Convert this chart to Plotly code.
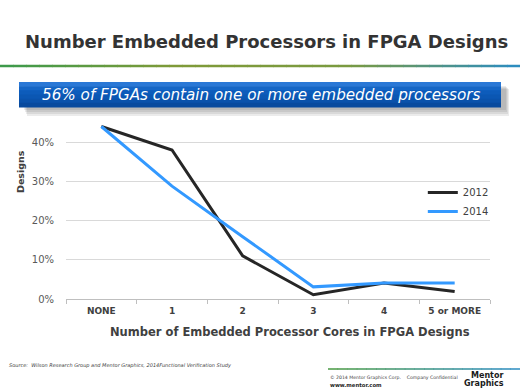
import plotly.graph_objects as go

categories = ["NONE", "1", "2", "3", "4", "5 or MORE"]
values_2012 = [0.44, 0.38, 0.11, 0.011, 0.041, 0.019]
values_2014 = [0.44, 0.288, 0.159, 0.031, 0.041, 0.041]
series_names = ["2012", "2014"]
y_tickvals = [0, 0.1, 0.2, 0.3, 0.4]
y_ticktext = ["0%", "10%", "20%", "30%", "40%"]

FONT = "DejaVu Sans"

fig = go.Figure()
fig.add_trace(go.Scatter(x=categories, y=values_2012, mode="lines", name=series_names[0],
                         line=dict(color="#262626", width=3)))
fig.add_trace(go.Scatter(x=categories, y=values_2014, mode="lines", name=series_names[1],
                         line=dict(color="#3399ff", width=3)))

shapes = []
annotations = []

L, R, T, B, W, H = 66, 30, 103, 91, 520, 390
PW, PH = W - L - R, H - T - B


def lerp_color(c1, c2, t):
    a = [int(c1[i:i + 2], 16) for i in (1, 3, 5)]
    b = [int(c2[i:i + 2], 16) for i in (1, 3, 5)]
    return "#" + "".join(f"{round(a[k] + (b[k] - a[k]) * t):02x}" for k in range(3))


def px_x(x):
    return (x - L) / PW


def px_y(y):
    return (H - B - y) / PH


def gradient_line(x0, x1, y, stops, n=40, width=2.5):
    seg = (x1 - x0) / n
    for i in range(n):
        t = (i + 0.5) / n
        k = min(int(t * (len(stops) - 1)), len(stops) - 2)
        lt = t * (len(stops) - 1) - k
        col = lerp_color(stops[k], stops[k + 1], lt)
        shapes.append(dict(type="line", xref="paper", yref="paper",
                           x0=px_x(x0 + i * seg), x1=px_x(x0 + (i + 1) * seg + 0.5),
                           y0=px_y(y), y1=px_y(y),
                           line=dict(color=col, width=width), layer="above"))


def px_rect(x0, y0, x1, y1, **kw):
    d = dict(type="rect", xref="paper", yref="paper",
             x0=px_x(x0), x1=px_x(x1), y0=px_y(y1), y1=px_y(y0), layer="above")
    d.update(kw)
    return d


def px_ann(text, x, y, **kw):
    d = dict(text=text, xref="paper", yref="paper", x=px_x(x), y=px_y(y),
             showarrow=False, xanchor="center", yanchor="middle")
    d.update(kw)
    return d


# top rule under the title
gradient_line(0, 520, 66, ["#3a9a4c", "#7f9a38", "#7a9a40", "#2a8cc4"])
# footer rule
gradient_line(328, 520, 369, ["#4a9a40", "#2a8cc4"], n=20, width=1.5)

# banner shadow
for i in range(4):
    shapes.append(px_rect(24 + i, 86 + i, 506 + i, 110 + 2 * i,
                          fillcolor="rgba(60,60,60,0.10)", line=dict(width=0)))
# banner gradient
banner_cols = ["#2a78d6", "#1566c6", "#0d5cbb", "#0b57b3", "#0a52ab", "#084a9e"]
hh = (107 - 82) / len(banner_cols)
for i, c in enumerate(banner_cols):
    shapes.append(px_rect(19, 82 + i * hh, 501, 82 + (i + 1) * hh + 0.6,
                          fillcolor=c, line=dict(width=0)))

annotations.append(px_ann("<b>Number Embedded Processors in FPGA Designs</b>", 266, 42,
                          font=dict(family=FONT, size=18, color="#333333")))
annotations.append(px_ann("<i>56% of FPGAs contain one or more embedded processors</i>", 261, 94.5,
                          font=dict(family=FONT, size=15.2, color="white")))
annotations.append(px_ann("<b>Number of Embedded Processor Cores in FPGA Designs</b>", 290, 332,
                          font=dict(family=FONT, size=11.5, color="#404040")))
annotations.append(px_ann("<b>Designs</b>", 20, 172, textangle=-90,
                          font=dict(family=FONT, size=9.5, color="#404040")))
annotations.append(px_ann("<i>Source:  Wilson Research Group and Mentor Graphics, 2014Functional Verification Study</i>",
                          7, 365, xanchor="left",
                          font=dict(family=FONT, size=5, color="#404040")))
annotations.append(px_ann("© 2014 Mentor Graphics Corp.    Company Confidential", 328, 377, xanchor="left",
                          font=dict(family=FONT, size=4.6, color="#404040")))
annotations.append(px_ann("<b>www.mentor.com</b>", 328, 384.5, xanchor="left",
                          font=dict(family=FONT, size=5.3, color="#262626")))
annotations.append(px_ann("<b>Mentor</b>", 505, 375.5, xanchor="right",
                          font=dict(family=FONT, size=8, color="#1a1a1a")))
annotations.append(px_ann("<b>Graphics</b>", 506, 383, xanchor="right",
                          font=dict(family=FONT, size=8, color="#1a1a1a")))

fig.update_layout(
    width=W, height=H,
    margin=dict(l=L, r=R, t=T, b=B, autoexpand=False),
    paper_bgcolor="white", plot_bgcolor="white",
    font=dict(family=FONT, color="#595959"),
    showlegend=True,
    legend=dict(x=1.009, y=px_y(202), xanchor="right", yanchor="middle",
                bgcolor="rgba(0,0,0,0)", font=dict(size=10, color="#404040"),
                itemwidth=30, tracegroupgap=0),
    shapes=shapes,
    annotations=annotations,
)
fig.update_xaxes(type="category", range=[-0.5, 5.5], showgrid=False,
                 showline=True, linecolor="#bfbfbf", linewidth=1,
                 ticks="outside", tickson="boundaries", ticklen=4, tickcolor="#bfbfbf",
                 ticklabelstandoff=3,
                 tickfont=dict(family=FONT, size=9, color="#404040", weight="bold"),
                 fixedrange=True)
fig.update_yaxes(range=[0, 0.5], tickvals=y_tickvals, ticktext=y_ticktext,
                 showgrid=True, gridcolor="#d9d9d9", gridwidth=1, zeroline=False,
                 showline=False, ticks="", ticklabelstandoff=11,
                 tickfont=dict(family=FONT, size=10, color="#595959"),
                 fixedrange=True)

fig.write_html("out.html", config={"displayModeBar": False},
               post_script="document.body.style.margin='0';")
